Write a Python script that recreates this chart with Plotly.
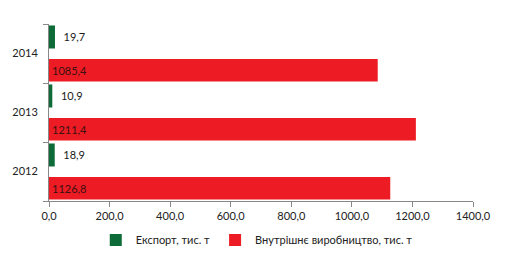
import plotly.graph_objects as go

years = ["2012", "2013", "2014"]
export_vals = [18.9, 10.9, 19.7]
domestic_vals = [1126.8, 1211.4, 1085.4]
tick_vals = [0, 200, 400, 600, 800, 1000, 1200, 1400]

FONT = "Lato, Open Sans, sans-serif"

fig = go.Figure()
fig.add_trace(go.Bar(
    y=years, x=export_vals, orientation="h", name="Експорт, тис. т",
    marker=dict(color="#0d6b38", line=dict(width=0)),
    width=0.39, offset=0.085,
    texttemplate="  %{x:.1f}", textposition="outside",
    textfont=dict(color="#1a1a1a", size=11, family=FONT),
    cliponaxis=False,
))
fig.add_trace(go.Bar(
    y=years, x=domestic_vals, orientation="h", name="Внутрішнє виробництво, тис. т",
    marker=dict(color="#ed1c24", line=dict(width=0)),
    width=0.38, offset=-0.475,
    texttemplate="%{x:.1f}", textposition="inside", insidetextanchor="start",
    textfont=dict(color="#3a1010", size=11, family=FONT),
))

fig.update_layout(
    width=511, height=254,
    margin=dict(l=49, r=38, t=24, b=53, autoexpand=False),
    barmode="overlay",
    separators=", ",
    paper_bgcolor="white", plot_bgcolor="white",
    font=dict(family=FONT, size=11, color="#222222"),
    showlegend=True,
    legend=dict(orientation="h", x=0.49, xanchor="center",
                yref="container", y=0.055, yanchor="middle",
                font=dict(size=11, family=FONT), itemwidth=30, traceorder="normal"),
)
fig.update_xaxes(
    range=[0, 1400], tickvals=tick_vals, tickformat=".1f",
    showgrid=False, zeroline=False,
    showline=True, linecolor="#888888", linewidth=1,
    ticks="outside", ticklen=5, tickcolor="#888888",
    tickfont=dict(size=11, family=FONT, color="#222222"),
)
fig.update_yaxes(
    categoryorder="array", categoryarray=years,
    range=[-0.5, 2.5],
    showgrid=False, zeroline=False,
    showline=True, linecolor="#888888", linewidth=1,
    ticks="outside", ticklen=5, tickcolor="#888888", tickson="boundaries",
    ticklabelstandoff=8,
    tickfont=dict(size=11, family=FONT, color="#222222"),
)

fig.write_html("out.html")
